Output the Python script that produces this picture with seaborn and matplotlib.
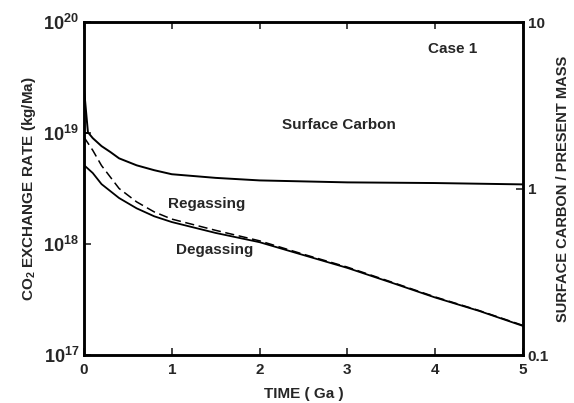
import numpy as np
import pandas as pd
import matplotlib
matplotlib.use("Agg")
import matplotlib.pyplot as plt
import seaborn as sns

# ---- data ----
time_ga = [0.0, 0.1, 0.2, 0.4, 0.6, 0.8, 1.0, 1.5, 2.0, 2.5, 3.0, 3.5, 4.0, 4.5, 5.0]
degassing = [5.15e18, 4.37e18, 3.47e18, 2.6e18, 2.1e18, 1.78e18, 1.58e18, 1.26e18,
             1.04e18, 7.96e17, 6.1e17, 4.5e17, 3.3e17, 2.5e17, 1.83e17]
regassing = [9.2e18, 7.0e18, 5.1e18, 3.17e18, 2.4e18, 1.95e18, 1.68e18, 1.33e18,
             1.07e18, 8.1e17, 6.2e17, 4.56e17, 3.34e17, 2.52e17, 1.85e17]

surf_time = [0.0, 0.045, 0.1, 0.2, 0.3, 0.4, 0.6, 0.8, 1.0, 1.5, 2.0, 3.0, 4.0, 5.0]
surface_carbon = [4.0, 2.18, 2.01, 1.80, 1.66, 1.52, 1.38, 1.29, 1.22, 1.16, 1.12,
                  1.09, 1.08, 1.06]

start_time = [0.0, 0.05]
start_rate = [1e19, 1e19]

x_ticks = [0, 1, 2, 3, 4, 5]
left_ticks = [1e17, 1e18, 1e19, 1e20]
left_labels = ["$\\mathbf{10^{17}}$", "$\\mathbf{10^{18}}$", "$\\mathbf{10^{19}}$", "$\\mathbf{10^{20}}$"]
right_ticks = [0.1, 1, 10]
right_labels = ["0.1", "1", "10"]

sns.set_theme(style="white")
plt.rcParams["font.family"] = ["Liberation Sans", "DejaVu Sans"]
plt.rcParams["font.weight"] = "bold"
plt.rcParams["mathtext.fontset"] = "custom"
plt.rcParams["mathtext.rm"] = "Liberation Sans:bold"
plt.rcParams["mathtext.bf"] = "Liberation Sans:bold"
plt.rcParams["mathtext.it"] = "Liberation Sans:bold"

fig = plt.figure(figsize=(5.74, 4.03), dpi=100)
ax = fig.add_axes([0.1463, 0.119, 0.7647, 0.826])

df_d = pd.DataFrame({"t": time_ga, "v": degassing})
df_r = pd.DataFrame({"t": time_ga, "v": regassing})
df_s = pd.DataFrame({"t": surf_time, "v": surface_carbon})
df_0 = pd.DataFrame({"t": start_time, "v": start_rate})

sns.lineplot(data=df_d, x="t", y="v", ax=ax, color="black", lw=1.3)
sns.lineplot(data=df_r, x="t", y="v", ax=ax, color="black", lw=1.1, linestyle=(0, (6, 3)))
sns.lineplot(data=df_0, x="t", y="v", ax=ax, color="black", lw=1.3)
ax.set_yscale("log")
ax.set_xlim(0, 5)
ax.set_ylim(1e17, 1e20)
ax.set_yticks(left_ticks)
ax.set_yticklabels(left_labels)
ax.minorticks_off()
ax.set_xticks(x_ticks)
ax.set_xticks([0.5, 1.5, 2.5, 3.5, 4.5], minor=True)
ax.tick_params(axis="x", which="both", direction="in", top=True, bottom=True,
               labelsize=11, length=5, width=1.2, pad=6)
ax.tick_params(axis="x", which="minor", length=4)
ax.tick_params(axis="y", which="both", direction="in", left=True, labelsize=13,
               length=5, width=1.2)
for lbl in ax.get_xticklabels():
    lbl.set_fontweight("bold")
ax.set_xlabel("TIME ( Ga )", fontsize=11, fontweight="bold", labelpad=7)
ax.set_ylabel("CO$_2$ EXCHANGE RATE (kg/Ma)", fontsize=11, fontweight="bold", labelpad=4)

ax2 = ax.twinx()
sns.lineplot(data=df_s, x="t", y="v", ax=ax2, color="black", lw=1.4)
ax2.set_yscale("log")
ax2.set_ylim(0.1, 10)
ax2.set_yticks(right_ticks)
ax2.set_yticklabels(right_labels)
ax2.minorticks_off()
ax2.tick_params(axis="y", direction="in", right=True, labelsize=11, length=5, width=1.2)
for lbl in ax2.get_yticklabels():
    lbl.set_fontweight("bold")
ax2.set_ylabel("SURFACE CARBON / PRESENT MASS", fontsize=10.5, fontweight="bold", labelpad=5)
ax2.set_xlim(0, 5)

for a in (ax, ax2):
    for s in a.spines.values():
        s.set_color("black")
        s.set_linewidth(1.8)

ax.text(4.2, 0.92, "Case 1", transform=ax.get_xaxis_transform(), ha="center",
        va="center", fontsize=11, fontweight="bold")
ax.text(2.9, 0.69, "Surface Carbon", transform=ax.get_xaxis_transform(), ha="center",
        va="center", fontsize=11, fontweight="bold")
ax.text(1.40, 0.455, "Regassing", transform=ax.get_xaxis_transform(), ha="center",
        va="center", fontsize=11, fontweight="bold")
ax.text(1.49, 0.315, "Degassing", transform=ax.get_xaxis_transform(), ha="center",
        va="center", fontsize=11, fontweight="bold")

fig.savefig("out.png", dpi=100)
